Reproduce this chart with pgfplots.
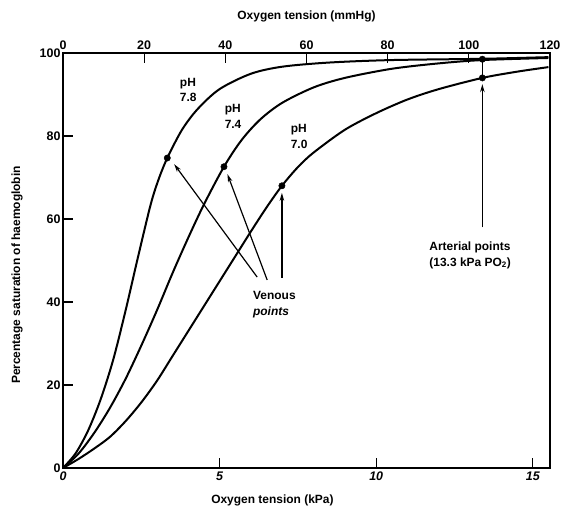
\documentclass[border=0pt]{standalone}
\usepackage{fontspec}
\setmainfont{Liberation Sans}
\usepackage{pgfplots}
\pgfplotsset{compat=1.18}
\usetikzlibrary{arrows.meta}
\begin{document}
\begin{tikzpicture}
\begin{axis}[
    name=main,
    scale only axis,
    width=487bp, height=415bp,
    xmin=0, xmax=15.55,
    ymin=0, ymax=100,
    xtick={0,5,10,15},
    ytick={0,20,40,60,80,100},
    xtick pos=lower, ytick pos=left,
    major tick length=10bp,
    axis line style={line width=1.6bp},
    tick style={line width=1.2bp, black},
    /pgf/number format/assume math mode=true,
    xticklabel style={font=\bfseries\itshape\fontsize{12.5}{14}\selectfont},
    yticklabel style={font=\bfseries\fontsize{12.5}{14}\selectfont, xshift=1bp},
    xlabel={Oxygen tension (kPa)},
    ylabel={Percentage saturation of haemoglobin},
    label style={font=\bfseries\fontsize{12}{14}\selectfont},
    xlabel style={at={(axis description cs:0.43,-0.077)}, anchor=center},
    ylabel style={at={(axis description cs:-0.0945,0.465)}, anchor=center},
    clip=false,
]
% pH 7.8
\addplot[line width=2bp, smooth, tension=0.5] coordinates {
    (0,0) (0.4,3.5) (0.8,9) (1.2,16.5) (1.6,26) (2.0,38) (2.4,51)
    (2.8,63.5) (3.05,69.5) (3.33,74.7) (3.8,81.5) (4.3,86.5) (5.0,91.3)
    (6.0,95.0) (7.0,96.7) (8.5,97.7) (10.5,98.3) (13.39,98.6) (15.5,99.0)
};
% pH 7.4
\addplot[line width=2bp, smooth, tension=0.5] coordinates {
    (0,0) (0.5,3.5) (1.0,8.5) (1.5,14.5) (2.0,21.5) (2.5,29.5) (3.0,38)
    (3.5,47) (4.0,55.5) (4.5,63.5) (5.14,72.6) (5.7,79) (6.3,84) (7.0,88)
    (8.0,91.7) (9.0,94) (10.5,96.2) (12.0,97.5) (13.39,98.3) (15.5,98.8)
};
% pH 7.0
\addplot[line width=2bp, smooth, tension=0.5] coordinates {
    (0,0) (0.5,2.2) (1.0,4.7) (1.5,7.5) (2.0,11.3) (2.5,15.8) (3.0,21)
    (3.5,27) (4.0,33) (4.5,39) (5.0,45) (5.5,51) (6.0,57) (6.5,62.8)
    (6.99,68) (7.5,72.5) (8.0,76) (9.0,81.5) (10.0,85.5) (11.0,88.8)
    (12.0,91.3) (13.39,94) (14.5,95.5) (15.5,96.6)
};
% venous and arterial points
\addplot[only marks, mark=*, mark size=3.2bp] coordinates {
    (3.33,74.7) (5.14,72.6) (6.99,68) (13.39,94) (13.39,98.5)
};

\draw[line width=1.2bp, -{Stealth[length=8bp,width=4.5bp]}] (axis cs:6.2,46) -- (axis cs:3.55,73.2);
\draw[line width=1.2bp, -{Stealth[length=8bp,width=4.5bp]}] (axis cs:6.52,45.3) -- (axis cs:5.25,70.8);
\draw[line width=1.2bp, -{Stealth[length=8bp,width=4.5bp]}] (axis cs:6.99,45.8) -- (axis cs:6.99,66.3);
\draw[line width=1.2bp, -{Stealth[length=8bp,width=4.5bp]}] (axis cs:13.39,58) -- (axis cs:13.39,92.5);
\draw[line width=1.2bp] (axis cs:13.39,94) -- (axis cs:13.39,98.5);

\begin{scope}[font=\bfseries\fontsize{12}{16}\selectfont]
\node[align=left] at (axis cs:4.0,91.1) {pH\\7.8};
\node[align=left] at (axis cs:5.43,84.8) {pH\\7.4};
\node[align=left] at (axis cs:7.54,79.8) {pH\\7.0};
\node[align=left] at (axis cs:6.75,39.3) {Venous\\\textit{points}};
\node[align=left] at (axis cs:13.0,51.3) {Arterial points\\(13.3 kPa PO\textsubscript{2})};
\end{scope}
\end{axis}

\begin{axis}[
    at={(main.south west)}, anchor=south west,
    scale only axis,
    width=487bp, height=415bp,
    xmin=0, xmax=120,
    ymin=0, ymax=1,
    axis x line*=top,
    axis y line=none,
    xtick={0,20,40,60,80,100,120},
    major tick length=10bp,
    axis line style={line width=1.6bp},
    tick style={line width=1.2bp, black},
    /pgf/number format/assume math mode=true,
    xticklabel style={font=\bfseries\fontsize{12.5}{14}\selectfont},
    xlabel={Oxygen tension (mmHg)},
    xlabel style={font=\bfseries\fontsize{12}{14}\selectfont,
        at={(axis description cs:0.5,1.087)}, anchor=center},
]
\end{axis}
\pgfresetboundingbox
\path[use as bounding box] ([shift={(-63bp,-44bp)}]main.south west)
    rectangle ([shift={(11bp,53bp)}]main.north east);
\end{tikzpicture}
\end{document}
